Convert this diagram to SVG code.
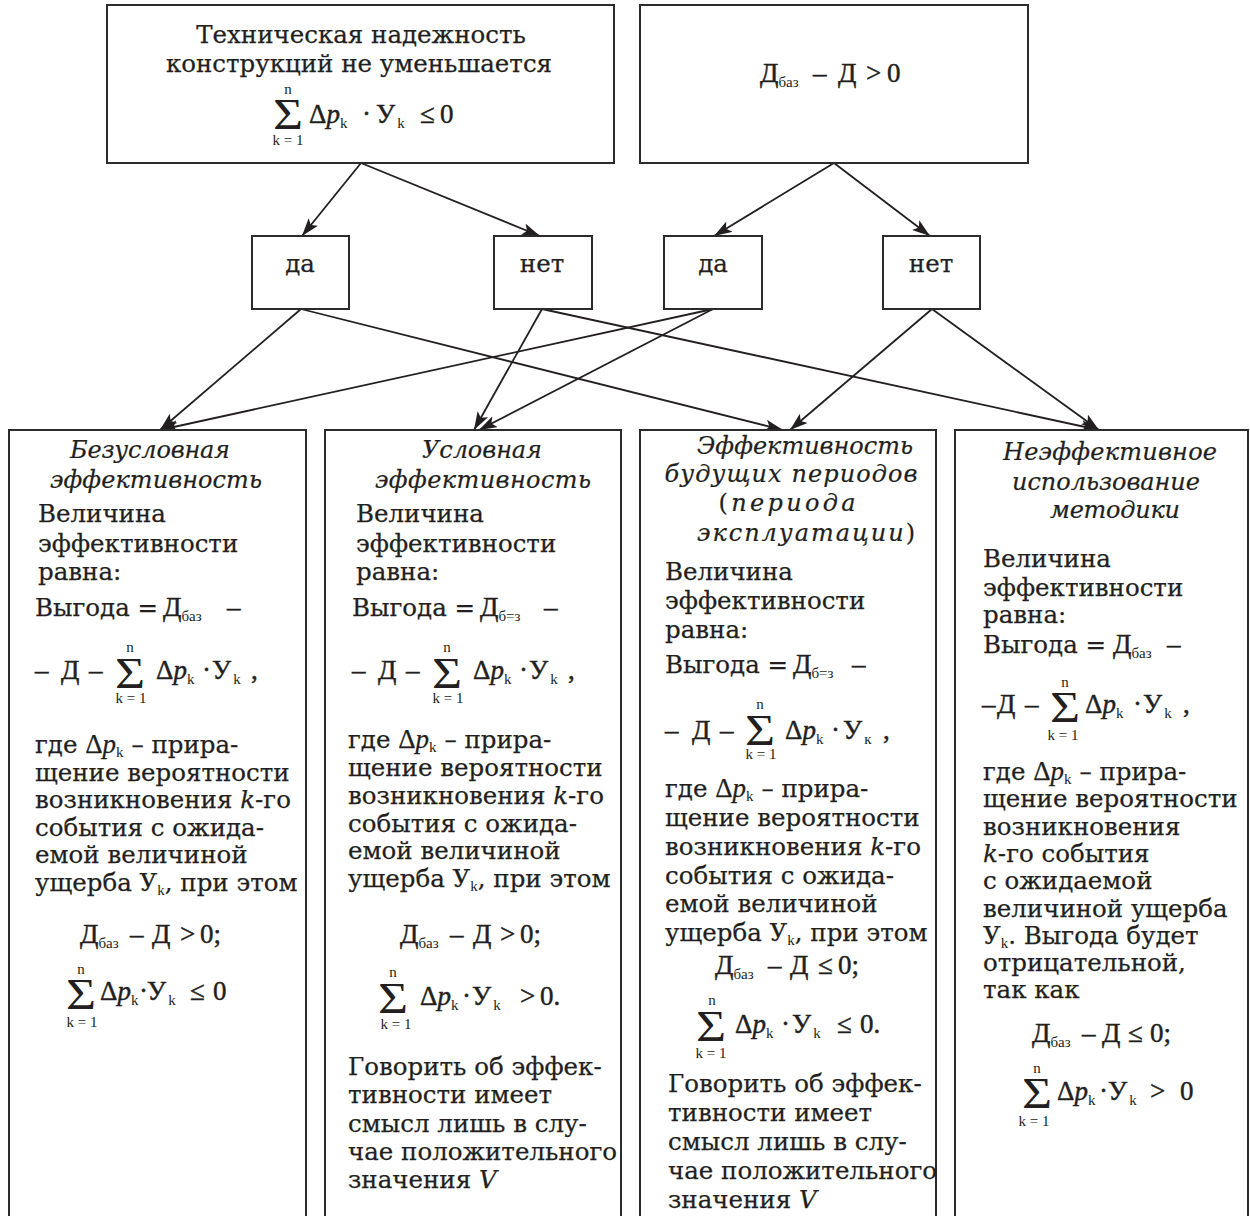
<svg xmlns="http://www.w3.org/2000/svg" width="1250" height="1216" viewBox="0 0 1250 1216">
<defs>
<marker id="ah" viewBox="0 0 18 12" refX="18" refY="6" markerWidth="18" markerHeight="12" markerUnits="userSpaceOnUse" orient="auto">
<path d="M0,0 L18,6 L0,12 L4,6 z" fill="#231f20"/>
</marker>
</defs>
<style>
.b{fill:#fff;stroke:#2b2b2b;stroke-width:2}
.c{fill:none;stroke:#231f20;stroke-width:1.8;marker-end:url(#ah)}
text{fill:#231f20}
.t{font-family:"DejaVu Serif","Liberation Serif",serif;font-size:24.5px;stroke:#231f20;stroke-width:0.25}
.ti{font-family:"DejaVu Serif","Liberation Serif",serif;font-size:24px;font-style:italic;text-anchor:middle;stroke:#231f20;stroke-width:0.2}
.m{font-family:"Liberation Serif",serif;font-size:27px;stroke:#231f20;stroke-width:0.45}
.mi{font-family:"Liberation Serif",serif;font-size:27px}
.i{font-style:italic}
.s{font-family:"Liberation Serif",serif;font-size:15px;stroke:none}
.sg{font-family:"Liberation Serif",serif;font-size:44px}
.sm{font-family:"Liberation Serif",serif;font-size:15px;text-anchor:middle}
</style>

<g id="connectors">
<line class="c" x1="361" y1="163" x2="302" y2="236"/>
<line class="c" x1="361" y1="163" x2="540" y2="236"/>
<line class="c" x1="834" y1="163" x2="714" y2="236"/>
<line class="c" x1="834" y1="163" x2="930" y2="236"/>
<line class="c" x1="301" y1="309" x2="160" y2="430"/>
<line class="c" x1="301" y1="309" x2="783" y2="430"/>
<line class="c" x1="542" y1="309" x2="474" y2="430"/>
<line class="c" x1="542" y1="309" x2="1099" y2="430"/>
<line class="c" x1="713" y1="309" x2="160" y2="430"/>
<line class="c" x1="713" y1="309" x2="479" y2="430"/>
<line class="c" x1="932" y1="309" x2="790" y2="430"/>
<line class="c" x1="932" y1="309" x2="1099" y2="430"/>
</g>

<g id="top-reliability">
<rect class="b" x="107" y="5" width="507" height="158"/>
<text class="t" x="361" y="43" text-anchor="middle">Техническая надежность</text>
<text class="t" x="359" y="72" text-anchor="middle">конструкций не уменьшается</text>
<text class="sg" x="273" y="129" textLength="30" lengthAdjust="spacingAndGlyphs">Σ</text>
<text class="sm" x="288" y="94">n</text>
<text class="sm" x="288" y="145">k = 1</text>
<text class="m" y="123"><tspan x="309">Δ</tspan><tspan class="i">p</tspan><tspan class="s" dy="5">k</tspan><tspan x="362" dy="-5">·</tspan><tspan x="376">У</tspan><tspan class="s" dy="5" dx="2">k</tspan><tspan x="420" dy="-5">≤</tspan><tspan x="440">0</tspan></text>
</g>

<g id="top-cost">
<rect class="b" x="640" y="5" width="388" height="158"/>
<text class="m" y="82"><tspan x="760">Д</tspan><tspan class="s" dy="5">баз</tspan><tspan x="813" dy="-5">–</tspan><tspan x="838">Д</tspan><tspan x="866">&gt;</tspan><tspan x="887">0</tspan></text>
</g>

<g id="yes1">
<rect class="b" x="252" y="236" width="97" height="73"/>
<text class="t" x="300" y="272" text-anchor="middle">да</text>
</g>
<g id="no1">
<rect class="b" x="494" y="236" width="98" height="73"/>
<text class="t" x="542" y="272" text-anchor="middle">нет</text>
</g>
<g id="yes2">
<rect class="b" x="664" y="236" width="98" height="73"/>
<text class="t" x="713" y="272" text-anchor="middle">да</text>
</g>
<g id="no2">
<rect class="b" x="883" y="236" width="97" height="73"/>
<text class="t" x="931" y="272" text-anchor="middle">нет</text>
</g>

<g id="col1">
<path class="b" d="M9,1217 V430 H306 V1217"/>
<text class="ti" x="150" y="458" textLength="160">Безусловная</text>
<text class="ti" x="156" y="488" textLength="212">эффективность</text>
<text class="t" x="38" y="522">Величина</text>
<text class="t" x="38" y="552">эффективности</text>
<text class="t" x="38" y="580">равна:</text>
<text class="t" x="35" y="616">Выгода =</text>
<text class="m" y="616"><tspan x="163">Д</tspan><tspan class="s" dy="5">баз</tspan><tspan x="227" dy="-5">–</tspan></text>
<text class="m" y="679"><tspan x="35">–</tspan><tspan x="61">Д</tspan><tspan x="89">–</tspan></text>
<text class="sg" x="115" y="688" textLength="30" lengthAdjust="spacingAndGlyphs">Σ</text>
<text class="sm" x="130" y="652">n</text>
<text class="sm" x="131" y="703">k = 1</text>
<text class="m" y="679"><tspan x="156">Δ</tspan><tspan class="i">p</tspan><tspan class="s" dy="5">k</tspan><tspan x="202" dy="-5">·</tspan><tspan x="212">У</tspan><tspan class="s" dy="5" dx="2">k</tspan><tspan x="251" dy="-5">,</tspan></text>
<text class="t" x="35" y="753">где <tspan class="mi">Δ<tspan class="i">p</tspan></tspan><tspan class="s" dy="4">k</tspan><tspan dy="-4"> – прира-</tspan></text>
<text class="t" x="35" y="780.5">щение вероятности</text>
<text class="t" x="35" y="808">возникновения <tspan class="i">k</tspan>-го</text>
<text class="t" x="35" y="835.5">события с ожида-</text>
<text class="t" x="35" y="863">емой величиной</text>
<text class="t" x="35" y="890.5">ущерба У<tspan class="s" dy="4">k</tspan><tspan dy="-4">, при этом</tspan></text>
<text class="m" y="943"><tspan x="80">Д</tspan><tspan class="s" dy="5">баз</tspan><tspan x="130" dy="-5">–</tspan><tspan x="152">Д</tspan><tspan x="180">&gt;</tspan><tspan x="200">0;</tspan></text>
<text class="sg" x="66" y="1009" textLength="30" lengthAdjust="spacingAndGlyphs">Σ</text>
<text class="sm" x="81" y="974">n</text>
<text class="sm" x="82" y="1027">k = 1</text>
<text class="m" y="1000"><tspan x="100">Δ</tspan><tspan class="i">p</tspan><tspan class="s" dy="5">k</tspan><tspan x="139" dy="-5">·</tspan><tspan x="147">У</tspan><tspan class="s" dy="5" dx="2">k</tspan><tspan x="190" dy="-5">≤</tspan><tspan x="213">0</tspan></text>
</g>

<g id="col2">
<path class="b" d="M325,1217 V430 H621 V1217"/>
<text class="ti" x="482" y="458" textLength="120">Условная</text>
<text class="ti" x="483" y="488" textLength="216">эффективность</text>
<text class="t" x="356" y="522">Величина</text>
<text class="t" x="356" y="552">эффективности</text>
<text class="t" x="356" y="580">равна:</text>
<text class="t" x="352" y="616">Выгода =</text>
<text class="m" y="616"><tspan x="480">Д</tspan><tspan class="s" dy="5">б=з</tspan><tspan x="544" dy="-5">–</tspan></text>
<text class="m" y="679"><tspan x="352">–</tspan><tspan x="378">Д</tspan><tspan x="406">–</tspan></text>
<text class="sg" x="432" y="688" textLength="30" lengthAdjust="spacingAndGlyphs">Σ</text>
<text class="sm" x="447" y="652">n</text>
<text class="sm" x="448" y="703">k = 1</text>
<text class="m" y="679"><tspan x="473">Δ</tspan><tspan class="i">p</tspan><tspan class="s" dy="5">k</tspan><tspan x="519" dy="-5">·</tspan><tspan x="529">У</tspan><tspan class="s" dy="5" dx="2">k</tspan><tspan x="568" dy="-5">,</tspan></text>
<text class="t" x="348" y="748">где <tspan class="mi">Δ<tspan class="i">p</tspan></tspan><tspan class="s" dy="4">k</tspan><tspan dy="-4"> – прира-</tspan></text>
<text class="t" x="348" y="776">щение вероятности</text>
<text class="t" x="348" y="804">возникновения <tspan class="i">k</tspan>-го</text>
<text class="t" x="348" y="831.5">события с ожида-</text>
<text class="t" x="348" y="859">емой величиной</text>
<text class="t" x="348" y="887">ущерба У<tspan class="s" dy="4">k</tspan><tspan dy="-4">, при этом</tspan></text>
<text class="m" y="943"><tspan x="400">Д</tspan><tspan class="s" dy="5">баз</tspan><tspan x="450" dy="-5">–</tspan><tspan x="473">Д</tspan><tspan x="500">&gt;</tspan><tspan x="520">0;</tspan></text>
<text class="sg" x="378" y="1013" textLength="30" lengthAdjust="spacingAndGlyphs">Σ</text>
<text class="sm" x="393" y="977">n</text>
<text class="sm" x="396" y="1029">k = 1</text>
<text class="m" y="1005"><tspan x="420">Δ</tspan><tspan class="i">p</tspan><tspan class="s" dy="5">k</tspan><tspan x="462" dy="-5">·</tspan><tspan x="472">У</tspan><tspan class="s" dy="5" dx="2">k</tspan><tspan x="520" dy="-5">&gt;</tspan><tspan x="540">0.</tspan></text>
<text class="t" x="348" y="1075">Говорить об эффек-</text>
<text class="t" x="348" y="1103">тивности имеет</text>
<text class="t" x="348" y="1132">смысл лишь в слу-</text>
<text class="t" x="348" y="1160">чае положительного</text>
<text class="t" x="348" y="1188">значения <tspan class="i">V</tspan></text>
</g>

<g id="col3">
<path class="b" d="M640,1217 V430 H936 V1217"/>
<text class="ti" x="805" y="454" textLength="216">Эффективность</text>
<text class="ti" x="791" y="482" textLength="253">будущих периодов</text>
<text class="ti" x="787" y="511" textLength="137"><tspan font-style="normal">(</tspan>периода</text>
<text class="ti" x="806" y="541" textLength="218">эксплуатации<tspan font-style="normal">)</tspan></text>
<text class="t" x="665" y="580">Величина</text>
<text class="t" x="665" y="609">эффективности</text>
<text class="t" x="665" y="638">равна:</text>
<text class="t" x="665" y="673">Выгода =</text>
<text class="m" y="673"><tspan x="793">Д</tspan><tspan class="s" dy="5">б=з</tspan><tspan x="852" dy="-5">–</tspan></text>
<text class="m" y="739"><tspan x="665">–</tspan><tspan x="692">Д</tspan><tspan x="720">–</tspan></text>
<text class="sg" x="745" y="745" textLength="30" lengthAdjust="spacingAndGlyphs">Σ</text>
<text class="sm" x="760" y="709">n</text>
<text class="sm" x="761" y="759">k = 1</text>
<text class="m" y="739"><tspan x="785">Δ</tspan><tspan class="i">p</tspan><tspan class="s" dy="5">k</tspan><tspan x="831" dy="-5">·</tspan><tspan x="843">У</tspan><tspan class="s" dy="5" dx="2">к</tspan><tspan x="883" dy="-5">,</tspan></text>
<text class="t" x="665" y="797">где <tspan class="mi">Δ<tspan class="i">p</tspan></tspan><tspan class="s" dy="4">k</tspan><tspan dy="-4"> – прира-</tspan></text>
<text class="t" x="665" y="826">щение вероятности</text>
<text class="t" x="665" y="855">возникновения <tspan class="i">k</tspan>-го</text>
<text class="t" x="665" y="884">события с ожида-</text>
<text class="t" x="665" y="912">емой величиной</text>
<text class="t" x="665" y="941">ущерба У<tspan class="s" dy="4">k</tspan><tspan dy="-4">, при этом</tspan></text>
<text class="m" y="974"><tspan x="715">Д</tspan><tspan class="s" dy="5">баз</tspan><tspan x="768" dy="-5">–</tspan><tspan x="790">Д</tspan><tspan x="818">≤</tspan><tspan x="838">0;</tspan></text>
<text class="sg" x="696" y="1041" textLength="30" lengthAdjust="spacingAndGlyphs">Σ</text>
<text class="sm" x="712" y="1005">n</text>
<text class="sm" x="711" y="1058">k = 1</text>
<text class="m" y="1033"><tspan x="735">Δ</tspan><tspan class="i">p</tspan><tspan class="s" dy="5">k</tspan><tspan x="781" dy="-5">·</tspan><tspan x="792">У</tspan><tspan class="s" dy="5" dx="2">k</tspan><tspan x="837" dy="-5">≤</tspan><tspan x="860">0.</tspan></text>
<text class="t" x="668" y="1092">Говорить об эффек-</text>
<text class="t" x="668" y="1121">тивности имеет</text>
<text class="t" x="668" y="1150">смысл лишь в слу-</text>
<text class="t" x="668" y="1179">чае положительного</text>
<text class="t" x="668" y="1208">значения <tspan class="i">V</tspan></text>
</g>

<g id="col4">
<path class="b" d="M955,1217 V430 H1248 V1217"/>
<text class="ti" x="1110" y="460" textLength="214">Неэффективное</text>
<text class="ti" x="1106" y="490" textLength="188">использование</text>
<text class="ti" x="1115" y="518" textLength="130">методики</text>
<text class="t" x="983" y="567">Величина</text>
<text class="t" x="983" y="596">эффективности</text>
<text class="t" x="983" y="623">равна:</text>
<text class="t" x="983" y="653">Выгода =</text>
<text class="m" y="653"><tspan x="1113">Д</tspan><tspan class="s" dy="5">баз</tspan><tspan x="1167" dy="-5">–</tspan></text>
<text class="m" y="713"><tspan x="982">–</tspan><tspan x="997">Д</tspan><tspan x="1025">–</tspan></text>
<text class="sg" x="1050" y="722" textLength="30" lengthAdjust="spacingAndGlyphs">Σ</text>
<text class="sm" x="1065" y="687">n</text>
<text class="sm" x="1063" y="740">k = 1</text>
<text class="m" y="713"><tspan x="1085">Δ</tspan><tspan class="i">p</tspan><tspan class="s" dy="5">k</tspan><tspan x="1133" dy="-5">·</tspan><tspan x="1143">У</tspan><tspan class="s" dy="5" dx="2">k</tspan><tspan x="1183" dy="-5">,</tspan></text>
<text class="t" x="983" y="780">где <tspan class="mi">Δ<tspan class="i">p</tspan></tspan><tspan class="s" dy="4">k</tspan><tspan dy="-4"> – прира-</tspan></text>
<text class="t" x="983" y="807">щение вероятности</text>
<text class="t" x="983" y="834.5">возникновения</text>
<text class="t" x="983" y="862"><tspan class="i">k</tspan>-го события</text>
<text class="t" x="983" y="889">с ожидаемой</text>
<text class="t" x="983" y="916.5">величиной ущерба</text>
<text class="t" x="983" y="943.5">У<tspan class="s" dy="4">k</tspan><tspan dy="-4">. Выгода будет</tspan></text>
<text class="t" x="983" y="971">отрицательной,</text>
<text class="t" x="983" y="998">так как</text>
<text class="m" y="1042"><tspan x="1032">Д</tspan><tspan class="s" dy="5">баз</tspan><tspan x="1082" dy="-5">–</tspan><tspan x="1102">Д</tspan><tspan x="1128">≤</tspan><tspan x="1150">0;</tspan></text>
<text class="sg" x="1022" y="1108" textLength="30" lengthAdjust="spacingAndGlyphs">Σ</text>
<text class="sm" x="1037" y="1073">n</text>
<text class="sm" x="1034" y="1126">k = 1</text>
<text class="m" y="1100"><tspan x="1057">Δ</tspan><tspan class="i">p</tspan><tspan class="s" dy="5">k</tspan><tspan x="1099" dy="-5">·</tspan><tspan x="1108">У</tspan><tspan class="s" dy="5" dx="2">k</tspan><tspan x="1150" dy="-5">&gt;</tspan><tspan x="1180">0</tspan></text>
</g>
</svg>
